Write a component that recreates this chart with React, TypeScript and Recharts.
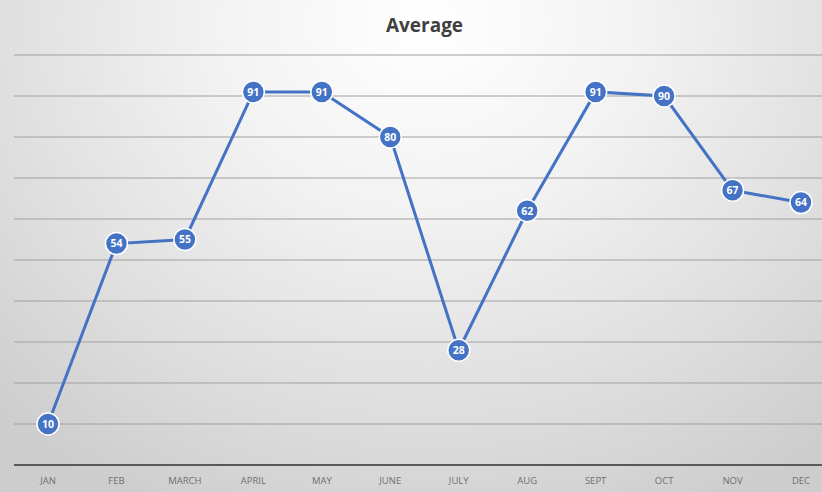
import React from 'react';
import { LineChart, Line, XAxis, YAxis, CartesianGrid, LabelList } from 'recharts';

const months = ['JAN', 'FEB', 'MARCH', 'APRIL', 'MAY', 'JUNE', 'JULY', 'AUG', 'SEPT', 'OCT', 'NOV', 'DEC'];
const averages = [10, 54, 55, 91, 91, 80, 28, 62, 91, 90, 67, 64];
const yTicks = [0, 10, 20, 30, 40, 50, 60, 70, 80, 90, 100];

const data = months.map((month, i) => ({ month, value: averages[i] }));

const BLUE = '#4472C4';

const Dot = (props: any) => {
  const { cx, cy } = props;
  if (cx == null || cy == null) return null;
  return <circle cx={cx} cy={cy} r={11} fill={BLUE} stroke="#ffffff" strokeWidth={1.5} />;
};

const ValueLabel = (props: any) => {
  const { x, y, value } = props;
  return (
    <text
      x={x}
      y={y}
      dy={3.8}
      textAnchor="middle"
      fill="#ffffff"
      fontSize={10.5}
      fontWeight={700}
      fontFamily="'Open Sans', sans-serif"
    >
      {value}
    </text>
  );
};

export default function App() {
  return (
    <div
      style={{
        position: 'absolute',
        left: 0,
        top: 0,
        width: 822,
        height: 492,
        overflow: 'hidden',
        background: 'radial-gradient(ellipse 75% 110% at 52% 5%, #ffffff 0%, #f2f2f2 35%, #dcdcdc 75%, #cdcdcd 100%)',
      }}
    >
      <div
        style={{
          position: 'absolute',
          top: 12,
          left: 0,
          width: 849,
          textAlign: 'center',
          fontFamily: "'Open Sans', sans-serif",
          fontWeight: 700,
          fontSize: 19,
          color: '#404040',
        }}
      >
        Average
      </div>
      <LineChart
        width={835}
        height={492}
        data={data}
        margin={{ top: 55, right: 0, left: 14, bottom: 0 }}
      >
        <CartesianGrid vertical={false} stroke="#a0a0a0" strokeWidth={1} />
        <XAxis
          dataKey="month"
          axisLine={{ stroke: '#595959', strokeWidth: 2 }}
          tickLine={false}
          tick={{ fill: '#6f6f6f', fontSize: 9.5, fontFamily: "'Open Sans', sans-serif" }}
          interval={0}
          height={27}
          tickMargin={6}
          padding={{ left: 34, right: 34 }}
        />
        <YAxis hide domain={[0, 100]} ticks={yTicks} />
        <Line
          type="linear"
          dataKey="value"
          stroke={BLUE}
          strokeWidth={3}
          dot={<Dot />}
          activeDot={false}
          isAnimationActive={false}
        >
          <LabelList dataKey="value" content={<ValueLabel />} />
        </Line>
      </LineChart>
    </div>
  );
}
